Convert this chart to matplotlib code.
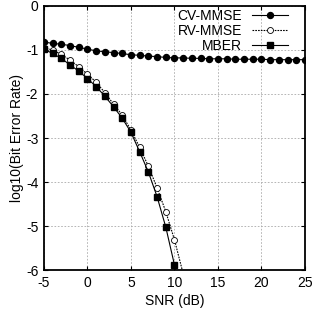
import numpy as np
import matplotlib
matplotlib.use("Agg")
import matplotlib.pyplot as plt

plt.rcParams["font.family"] = ["Liberation Sans", "DejaVu Sans"]
plt.rcParams["axes.unicode_minus"] = False

# SNR grid (dB)
snr_cv = np.arange(-5, 26)
cv_mmse = [-0.82, -0.85, -0.87, -0.90, -0.94, -0.98, -1.02, -1.04, -1.06, -1.08,
           -1.11, -1.12, -1.14, -1.15, -1.17, -1.18, -1.18, -1.19, -1.19, -1.20,
           -1.20, -1.20, -1.21, -1.21, -1.21, -1.21, -1.22, -1.22, -1.22, -1.22,
           -1.22]

snr_ber = np.arange(-5, 12)
rv_mmse = [-0.95, -1.00, -1.10, -1.23, -1.38, -1.55, -1.73, -1.97, -2.23, -2.48,
           -2.82, -3.21, -3.64, -4.13, -4.67, -5.31, -6.08]
mber = [-0.98, -1.08, -1.19, -1.34, -1.48, -1.65, -1.83, -2.05, -2.29, -2.55,
        -2.87, -3.31, -3.77, -4.33, -5.02, -5.88, -7.0]

fs = 10

fig = plt.figure(figsize=(3.16, 3.14), dpi=100)
ax = fig.add_axes([0.139, 0.140, 0.826, 0.841])

ax.plot(snr_cv, cv_mmse, "-", color="black", lw=0.8, marker="o", ms=4.3,
        mfc="black", label="CV-MMSE")
ax.plot(snr_ber, rv_mmse, linestyle=(0, (1.5, 1)), color="black", lw=0.8,
        marker="o", ms=4.3, mfc="white", mew=0.6, label="RV-MMSE")
ax.plot(snr_ber, mber, "-", color="black", lw=0.8, marker="s", ms=4.3,
        mfc="black", label="MBER")

ax.set_xlim(-5, 25)
ax.set_ylim(-6, 0)
ax.set_xticks(range(-5, 26, 5))
ax.set_yticks(range(-6, 1))
ax.grid(True, color="#aaaaaa", linestyle=(0, (2, 2)), lw=0.6)
ax.tick_params(direction="in", top=True, right=True, labelsize=fs,
               length=3, width=0.8, pad=4)
for s in ax.spines.values():
    s.set_linewidth(1.3)

ax.set_xlabel("SNR (dB)", fontsize=fs, labelpad=3)
ax.set_ylabel("log10(Bit Error Rate)", fontsize=fs, labelpad=1)

ax.legend(loc="upper right", bbox_to_anchor=(0.935, 0.988), frameon=False,
          markerfirst=False, fontsize=fs, handlelength=2.6, handletextpad=0.7,
          labelspacing=0.05, borderaxespad=0, borderpad=0)

fig.savefig("out.png", dpi=100)
